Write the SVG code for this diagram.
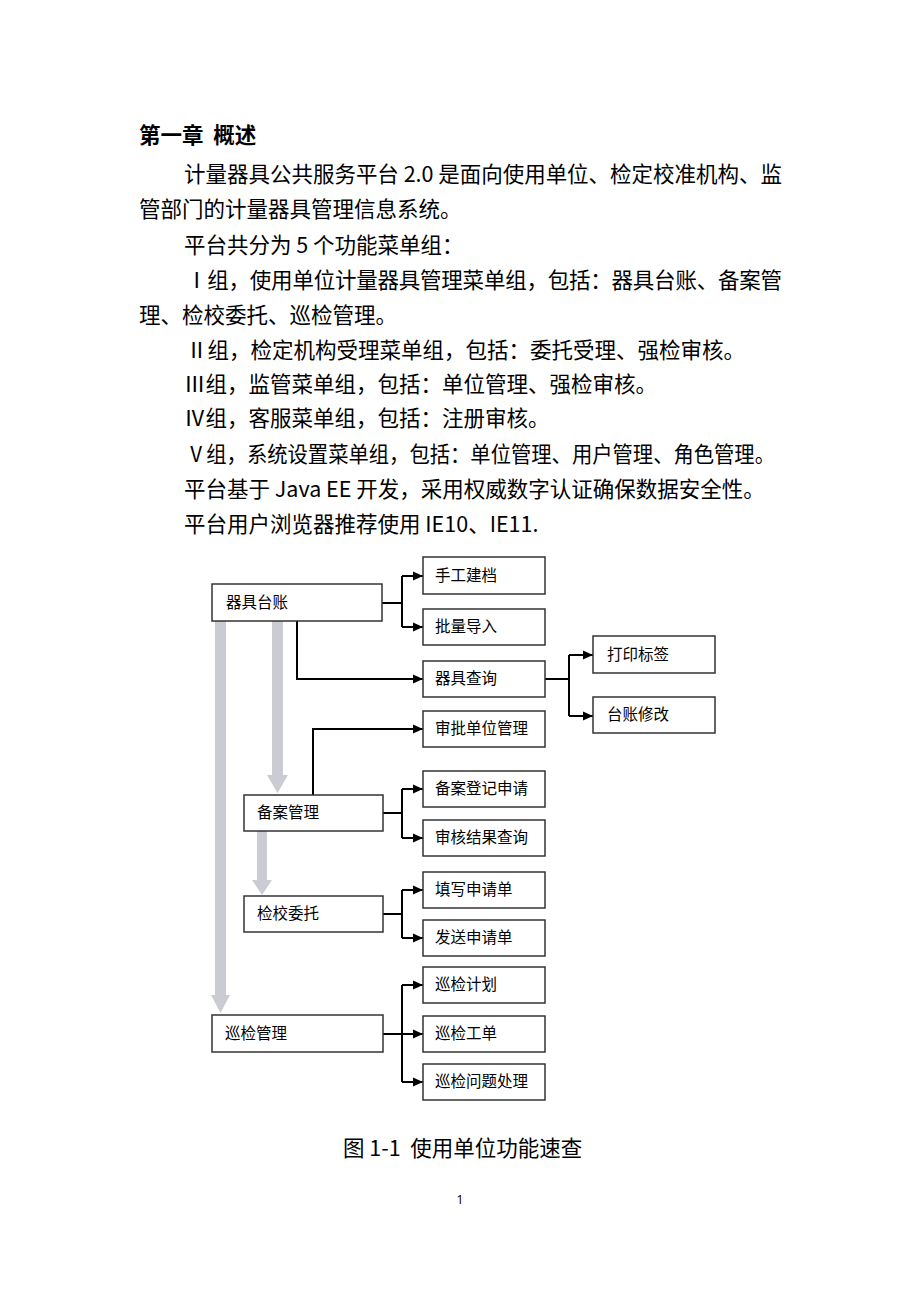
<svg xmlns="http://www.w3.org/2000/svg" width="920" height="1302" viewBox="0 0 920 1302">
<style>
text{font-family:"Noto Sans CJK SC","Liberation Sans",sans-serif;fill:#000}
.body{font-size:21.5px}
.title{font-size:21.5px;font-weight:bold}
.cap{font-size:21.5px}
.pg{font-size:13px;font-family:"Open Sans","Liberation Sans",sans-serif}
.box{fill:#fff;stroke:#333;stroke-width:1.5}
.lbl{font-size:15.5px}
.con{fill:none;stroke:#000;stroke-width:2}
.gray{fill:#cbcbd3}
</style>
<defs>
<marker id="ah" markerUnits="userSpaceOnUse" markerWidth="12" markerHeight="12" viewBox="0 0 12 12" refX="11" refY="6" orient="auto">
<path d="M1,1.5 L11,6 L1,10.5 Z" fill="#000"/>
</marker>
</defs>
<rect width="920" height="1302" fill="#fff"/>

<g id="text-body">
<text class="title" x="139" y="143" xml:space="preserve">第一章  概述</text>
<text class="body" x="184" y="182" textLength="598" lengthAdjust="spacing">计量器具公共服务平台 2.0 是面向使用单位、检定校准机构、监</text>
<text class="body" x="139" y="217">管部门的计量器具管理信息系统。</text>
<text class="body" x="184" y="253">平台共分为 5 个功能菜单组：</text>
<text class="body" x="186" y="288" textLength="596" lengthAdjust="spacing">Ⅰ组，使用单位计量器具管理菜单组，包括：器具台账、备案管</text>
<text class="body" x="139" y="323">理、检校委托、巡检管理。</text>
<text class="body" x="186" y="358">Ⅱ组，检定机构受理菜单组，包括：委托受理、强检审核。</text>
<text class="body" x="184" y="392">Ⅲ组，监管菜单组，包括：单位管理、强检审核。</text>
<text class="body" x="184" y="426">Ⅳ组，客服菜单组，包括：注册审核。</text>
<text class="body" x="186" y="462" textLength="589" lengthAdjust="spacingAndGlyphs">Ⅴ组，系统设置菜单组，包括：单位管理、用户管理、角色管理。</text>
<text class="body" x="184" y="497">平台基于 Java EE 开发，采用权威数字认证确保数据安全性。</text>
<text class="body" x="184" y="532">平台用户浏览器推荐使用 IE10、IE11.</text>
</g>

<g id="connectors">
<path class="gray" d="M215,621 H226 V995 H230 L220.5,1013 L211,995 H215 Z"/>
<path class="gray" d="M272,621 H283 V775 H288 L277.5,793 L267,775 H272 Z"/>
<path class="gray" d="M257,831 H267 V880 H272 L262,895 L252,880 H257 Z"/>

<path class="con" d="M382,603 H402"/>
<path class="con" d="M402,576 V627"/>
<path class="con" d="M402,576 H423" marker-end="url(#ah)"/>
<path class="con" d="M402,627 H423" marker-end="url(#ah)"/>
<path class="con" d="M297,621 V679 H423" marker-end="url(#ah)"/>

<path class="con" d="M545,679 H569"/>
<path class="con" d="M569,655 V716"/>
<path class="con" d="M569,655 H593" marker-end="url(#ah)"/>
<path class="con" d="M569,716 H593" marker-end="url(#ah)"/>

<path class="con" d="M313,795 V729 H423" marker-end="url(#ah)"/>

<path class="con" d="M383,813 H402"/>
<path class="con" d="M402,789 V838"/>
<path class="con" d="M402,789 H423" marker-end="url(#ah)"/>
<path class="con" d="M402,838 H423" marker-end="url(#ah)"/>

<path class="con" d="M383,914 H402"/>
<path class="con" d="M402,890 V938"/>
<path class="con" d="M402,890 H423" marker-end="url(#ah)"/>
<path class="con" d="M402,938 H423" marker-end="url(#ah)"/>

<path class="con" d="M383,1034 H402"/>
<path class="con" d="M402,985 V1082"/>
<path class="con" d="M402,985 H423" marker-end="url(#ah)"/>
<path class="con" d="M402,1034 H423" marker-end="url(#ah)"/>
<path class="con" d="M402,1082 H423" marker-end="url(#ah)"/>
</g>

<g id="n-qijutaizhang"><rect class="box" x="212" y="584" width="170" height="37"/><text class="lbl" x="226" y="608">器具台账</text></g>
<g id="n-shougongjiandang"><rect class="box" x="423" y="557" width="122" height="37"/><text class="lbl" x="435" y="581">手工建档</text></g>
<g id="n-piliangdaoru"><rect class="box" x="423" y="609" width="122" height="36"/><text class="lbl" x="435" y="632">批量导入</text></g>
<g id="n-qijuchaxun"><rect class="box" x="423" y="661" width="122" height="36"/><text class="lbl" x="435" y="684">器具查询</text></g>
<g id="n-dayinbiaoqian"><rect class="box" x="593" y="636" width="122" height="37"/><text class="lbl" x="607" y="660">打印标签</text></g>
<g id="n-taizhangxiugai"><rect class="box" x="593" y="697" width="122" height="36"/><text class="lbl" x="607" y="720">台账修改</text></g>
<g id="n-shenpidanwei"><rect class="box" x="423" y="711" width="122" height="36"/><text class="lbl" x="435" y="734">审批单位管理</text></g>
<g id="n-beianguanli"><rect class="box" x="244" y="795" width="139" height="36"/><text class="lbl" x="257" y="818">备案管理</text></g>
<g id="n-beiandengji"><rect class="box" x="423" y="771" width="122" height="36"/><text class="lbl" x="435" y="794">备案登记申请</text></g>
<g id="n-shenhejieguo"><rect class="box" x="423" y="820" width="122" height="36"/><text class="lbl" x="435" y="843">审核结果查询</text></g>
<g id="n-jianjiaoweituo"><rect class="box" x="244" y="896" width="139" height="36"/><text class="lbl" x="257" y="919">检校委托</text></g>
<g id="n-tianxie"><rect class="box" x="423" y="872" width="122" height="36"/><text class="lbl" x="435" y="895">填写申请单</text></g>
<g id="n-fasong"><rect class="box" x="423" y="920" width="122" height="36"/><text class="lbl" x="435" y="943">发送申请单</text></g>
<g id="n-xunjianguanli"><rect class="box" x="212" y="1015" width="171" height="37"/><text class="lbl" x="225" y="1039">巡检管理</text></g>
<g id="n-xunjianjihua"><rect class="box" x="423" y="967" width="122" height="36"/><text class="lbl" x="435" y="990">巡检计划</text></g>
<g id="n-xunjiangongdan"><rect class="box" x="423" y="1016" width="122" height="36"/><text class="lbl" x="435" y="1039">巡检工单</text></g>
<g id="n-xunjianwenti"><rect class="box" x="423" y="1064" width="122" height="36"/><text class="lbl" x="435" y="1087">巡检问题处理</text></g>

<g id="caption">
<text class="cap" x="343" y="1156" xml:space="preserve">图 1-1  使用单位功能速查</text>
<text class="pg" x="460" y="1204" text-anchor="middle">1</text>
</g>
</svg>
